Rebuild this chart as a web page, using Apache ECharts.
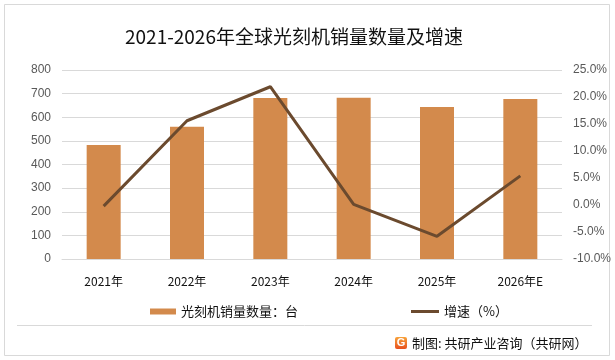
<!DOCTYPE html>
<html><head><meta charset="utf-8">
<script src="https://cdn.jsdelivr.net/npm/echarts@6/dist/echarts.min.js"></script>
<style>html,body{margin:0;padding:0;background:#fff}#c{width:615px;height:360px}</style>
</head><body><div id="c"></div>
<script>
const categories = ['2021年','2022年','2023年','2024年','2025年','2026年E'];
const salesUnits = [483, 560, 682, 683, 643, 677];
const growthPct = [-0.2, 15.6, 21.9, 0.1, -5.8, 5.4];
const leftTicks = {min: 0, max: 800, interval: 100};
const rightTicks = {min: -10, max: 25, interval: 5};
const barName = '光刻机销量数量：台';
const lineName = '增速（%）';

const chart = echarts.init(document.getElementById('c'), null, {renderer: 'canvas'});
const font = '"Noto Sans CJK SC", "Liberation Sans", sans-serif';
chart.setOption({
  backgroundColor: '#fff',
  animation: false,
  title: {
    text: '2021-2026年全球光刻机销量数量及增速',
    left: 120, top: 22,
    textStyle: {fontFamily: font, fontSize: 19, fontWeight: 'normal', color: '#111'}
  },
  grid: {left: 62, right: 53, top: 70, bottom: 101, containLabel: false},
  legend: [
    {data: [{name: barName, icon: 'rect'}], left: 145, top: 300, itemWidth: 26, itemHeight: 6, itemGap: 3,
     textStyle: {fontFamily: font, fontSize: 13, color: '#111'}},
    {data: [{name: lineName, icon: 'rect'}], left: 406, top: 300, itemWidth: 28, itemHeight: 3,
     textStyle: {fontFamily: font, fontSize: 13, color: '#111'}}
  ],
  xAxis: {
    type: 'category', data: categories,
    axisLine: {show: true, lineStyle: {color: '#d9d9d9'}},
    axisTick: {show: false},
    axisLabel: {fontFamily: font, fontSize: 12, color: '#111', margin: 16}
  },
  yAxis: [
    {type: 'value', min: leftTicks.min, max: leftTicks.max, interval: leftTicks.interval,
     axisLine: {show: false}, axisTick: {show: false},
     splitLine: {lineStyle: {color: '#d9d9d9'}},
     axisLabel: {fontFamily: '"Liberation Sans", sans-serif', fontSize: 12, color: '#595959', margin: 11}},
    {type: 'value', min: rightTicks.min, max: rightTicks.max, interval: rightTicks.interval,
     axisLine: {show: false}, axisTick: {show: false}, splitLine: {show: false},
     axisLabel: {fontFamily: '"Liberation Sans", sans-serif', fontSize: 12, color: '#595959', margin: 11,
       formatter: v => v.toFixed(1) + '%'}}
  ],
  series: [
    {name: barName, type: 'bar', data: salesUnits, barWidth: 34, yAxisIndex: 0,
     itemStyle: {color: '#D38A4C'}},
    {name: lineName, type: 'line', data: growthPct, yAxisIndex: 1, showSymbol: false, symbol: 'none',
     lineStyle: {color: '#6B4A2E', width: 3}, itemStyle: {color: '#6B4A2E'}}
  ],
  graphic: [
    {type: 'rect', shape: {x: 4.5, y: 4.5, width: 605, height: 351}, style: {fill: 'none', stroke: '#d9d9d9', lineWidth: 1}, silent: true},
    {type: 'line', shape: {x1: 17, y1: 325.5, x2: 592, y2: 325.5}, style: {stroke: '#d9d9d9', lineWidth: 1}},
    {type: 'rect', shape: {x: 395, y: 337, width: 12, height: 12, r: 2},
     style: {fill: new echarts.graphic.LinearGradient(0, 0, 0, 1, [{offset: 0, color: '#f7a23a'}, {offset: 1, color: '#e8501e'}])}},
    {type: 'text', x: 401, y: 343, style: {text: 'G', fontFamily: '"Liberation Sans", sans-serif', fontWeight: 'bold', fontSize: 11, fill: '#fff', align: 'center', verticalAlign: 'middle'}},
    {type: 'text', x: 412, y: 343, style: {text: '制图: 共研产业咨询（共研网）', fontFamily: font, fontSize: 13, fill: '#111', verticalAlign: 'middle'}}
  ]
});
</script></body></html>
